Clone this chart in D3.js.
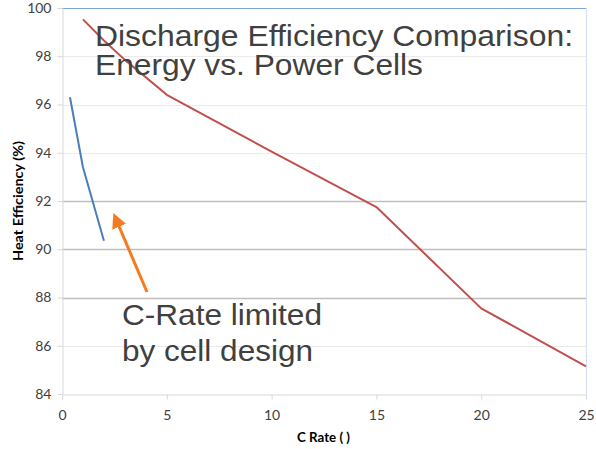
<!DOCTYPE html>
<html lang="en">
<head>
    <meta charset="utf-8">
    <script src="https://d3js.org/d3.v7.min.js"></script>
    <style>
        body { margin: 0; background: #fff; }
    </style>
</head>
<body>
    <div id="chart"></div>
    <script>
        // values
        var energyRate = [0.38, 1, 2];
        var energyEff = [96.3, 93.4, 90.35];
        var powerRate = [1, 2, 3, 5, 10, 15, 20, 25];
        var powerEff = [99.53, 98.65, 97.85, 96.4, 94.05, 91.75, 87.55, 85.15];
        var xTicks = [0, 5, 10, 15, 20, 25];
        var yTicks = [84, 86, 88, 90, 92, 94, 96, 98, 100];
        var darkGrid = [88, 90, 92];

        var width = 596, height = 449;
        var margin = { top: 8, right: 10, bottom: 55, left: 62 };

        var svg = d3.select("#chart").append("svg")
            .attr("width", width)
            .attr("height", height);

        var x = d3.scaleLinear()
            .domain([0, 25])
            .range([margin.left, width - margin.right]);

        var y = d3.scaleLinear()
            .domain([84, 100])
            .range([height - margin.bottom, margin.top]);

        // gridlines
        svg.append("g")
            .selectAll("line")
            .data(yTicks.filter(d => d > 84 && d < 100))
            .join("line")
            .attr("x1", x(0))
            .attr("x2", x(25))
            .attr("y1", d => Math.round(y(d)) + 0.5)
            .attr("y2", d => Math.round(y(d)) + 0.5)
            .attr("stroke", d => darkGrid.includes(d) ? "#bfbfbf" : "#ebebeb")
            .attr("stroke-width", d => darkGrid.includes(d) ? 1.5 : 1);

        // top and right border
        svg.append("line")
            .attr("x1", x(0)).attr("x2", x(25))
            .attr("y1", y(100) + 0.5).attr("y2", y(100) + 0.5)
            .attr("stroke", "#7ea6dc").attr("stroke-width", 1.2);
        svg.append("line")
            .attr("x1", x(25) + 0.5).attr("x2", x(25) + 0.5)
            .attr("y1", y(100)).attr("y2", y(84))
            .attr("stroke", "#d6e2f3").attr("stroke-width", 1.2);

        // axes
        var xAxis = g => g
            .attr("transform", `translate(0,${Math.round(y(84)) + 0.5})`)
            .call(d3.axisBottom(x).tickValues(xTicks).tickSize(5).tickSizeOuter(0).tickPadding(11))
            .call(g => g.select(".domain").attr("stroke", "#d9d9d9"))
            .call(g => g.selectAll(".tick line").attr("stroke", "#d9d9d9"))
            .call(g => g.selectAll(".tick text")
                .attr("font-family", "Lato, 'Open Sans', sans-serif")
                .attr("font-size", 14)
                .attr("fill", "#404040"));

        var yAxis = g => g
            .attr("transform", `translate(${x(0) + 0.5},0)`)
            .call(d3.axisLeft(y).tickValues(yTicks).tickSize(5).tickSizeOuter(0).tickPadding(6))
            .call(g => g.select(".domain").attr("stroke", "#d9d9d9"))
            .call(g => g.selectAll(".tick line").attr("stroke", "#d9d9d9"))
            .call(g => g.selectAll(".tick text")
                .attr("font-family", "Lato, 'Open Sans', sans-serif")
                .attr("font-size", 14)
                .attr("fill", "#404040"));

        svg.append("g").call(xAxis);
        svg.append("g").call(yAxis);

        // axis titles
        svg.append("text")
            .attr("x", 323.5)
            .attr("y", 442)
            .attr("text-anchor", "middle")
            .attr("font-family", "Lato, sans-serif")
            .attr("font-weight", "bold")
            .attr("font-size", 13)
            .attr("textLength", 53)
            .attr("lengthAdjust", "spacingAndGlyphs")
            .attr("fill", "#000")
            .text("C Rate ( )");

        svg.append("text")
            .attr("transform", "translate(23,201) rotate(-90)")
            .attr("text-anchor", "middle")
            .attr("font-family", "Lato, sans-serif")
            .attr("font-weight", "bold")
            .attr("font-size", 13)
            .attr("textLength", 120)
            .attr("lengthAdjust", "spacingAndGlyphs")
            .attr("fill", "#000")
            .text("Heat Efficiency (%)");

        // series lines
        var line = d3.line()
            .x(d => x(d[0]))
            .y(d => y(d[1]));

        svg.append("path")
            .datum(d3.zip(powerRate, powerEff))
            .attr("fill", "none")
            .attr("stroke", "#c0504d")
            .attr("stroke-width", 2)
            .attr("stroke-linejoin", "round")
            .attr("d", line);

        svg.append("path")
            .datum(d3.zip(energyRate, energyEff))
            .attr("fill", "none")
            .attr("stroke", "#4a7ebb")
            .attr("stroke-width", 2)
            .attr("stroke-linejoin", "round")
            .attr("d", line);

        // title text overlay
        var title = svg.append("text")
            .attr("font-family", "'Liberation Sans', Arial, sans-serif")
            .attr("font-size", 29)
            .attr("fill", "#404040")
            .attr("lengthAdjust", "spacingAndGlyphs");
        title.append("tspan").attr("x", 95).attr("y", 46)
            .attr("textLength", 478).attr("lengthAdjust", "spacingAndGlyphs")
            .text("Discharge Efficiency Comparison:");
        title.append("tspan").attr("x", 95).attr("y", 75)
            .attr("textLength", 328).attr("lengthAdjust", "spacingAndGlyphs")
            .text("Energy vs. Power Cells");

        // annotation
        var note = svg.append("text")
            .attr("font-family", "'Liberation Sans', Arial, sans-serif")
            .attr("font-size", 30)
            .attr("fill", "#404040");
        note.append("tspan").attr("x", 122).attr("y", 325)
            .attr("textLength", 200).attr("lengthAdjust", "spacingAndGlyphs")
            .text("C-Rate limited");
        note.append("tspan").attr("x", 122).attr("y", 361)
            .attr("textLength", 191).attr("lengthAdjust", "spacingAndGlyphs")
            .text("by cell design");

        // arrow
        svg.append("defs").append("marker")
            .attr("id", "head")
            .attr("viewBox", "0 0 10 10")
            .attr("refX", 2)
            .attr("refY", 5)
            .attr("markerWidth", 5)
            .attr("markerHeight", 5)
            .attr("markerUnits", "strokeWidth")
            .attr("orient", "auto")
            .append("path")
            .attr("d", "M0,0 L10,5 L0,10 Z")
            .attr("fill", "#f47b20");

        svg.append("line")
            .attr("x1", 147).attr("y1", 292)
            .attr("x2", 118).attr("y2", 224)
            .attr("stroke", "#f47b20")
            .attr("stroke-width", 3)
            .attr("marker-end", "url(#head)");
    </script>
</body>
</html>
